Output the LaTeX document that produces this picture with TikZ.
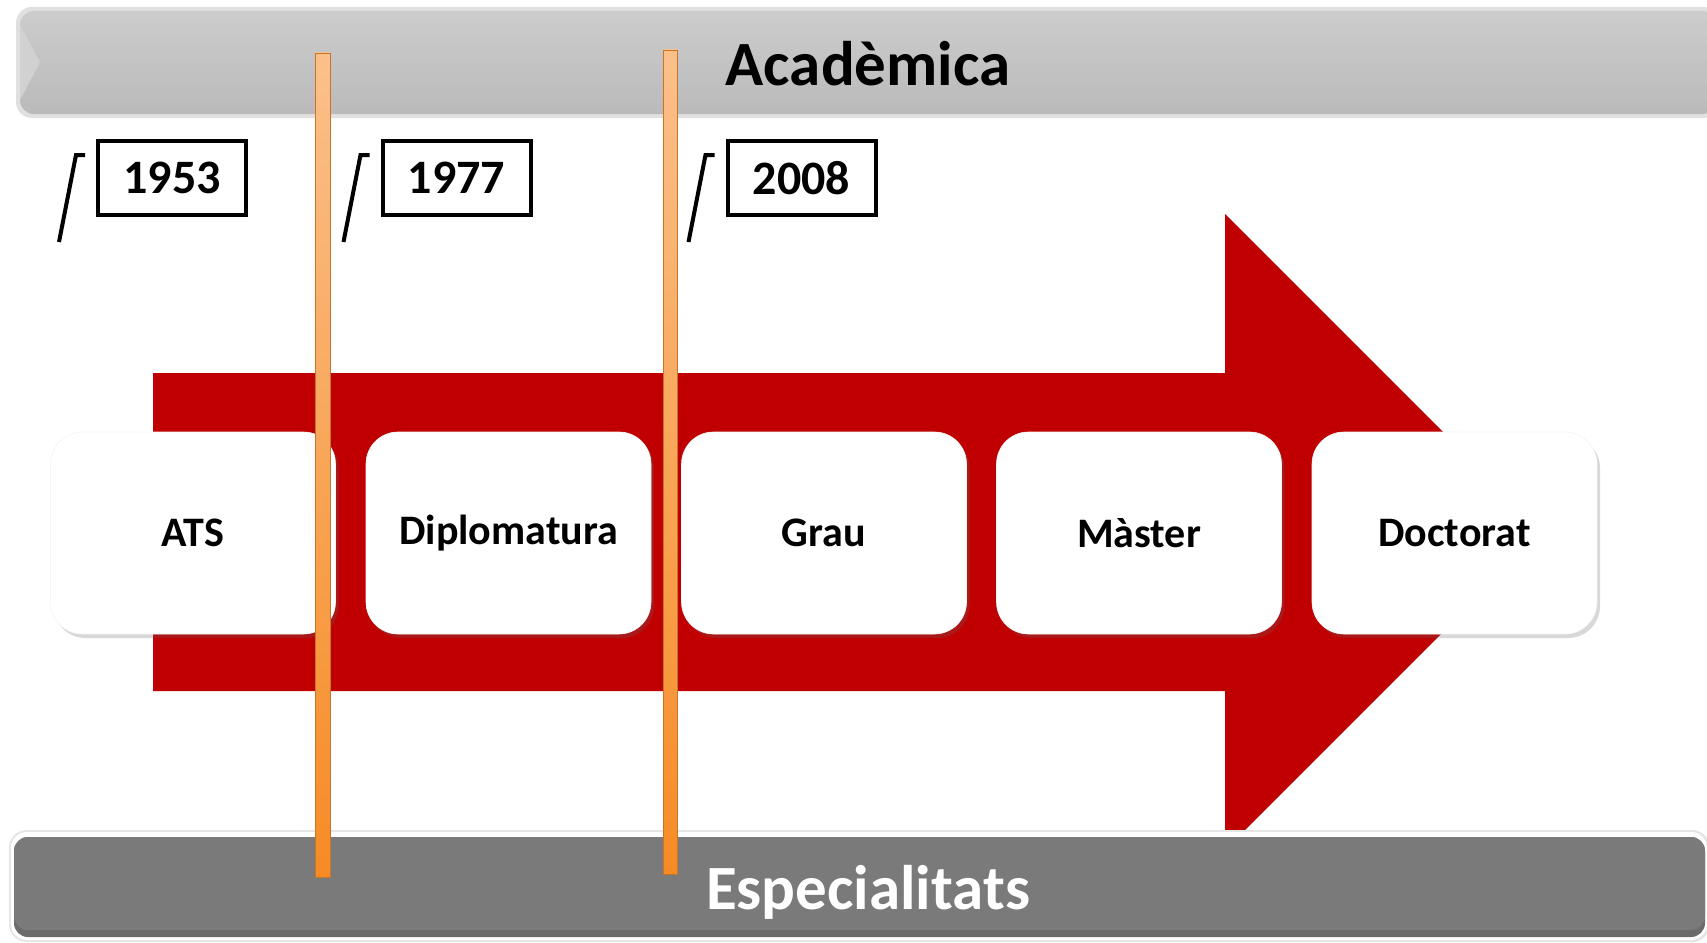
\documentclass[tikz,border=0pt]{standalone}
\usepackage{fontspec}
\setmainfont{Carlito}
\usetikzlibrary{shadows,calc}
\definecolor{arrowred}{HTML}{C00000}
\definecolor{bandlight}{HTML}{BEBEBE}
\definecolor{banddark}{HTML}{7A7A7A}
\definecolor{bartop}{HTML}{FBC08A}
\definecolor{barbot}{HTML}{F68B25}
\definecolor{baredge}{HTML}{C8742A}
\begin{document}
\begin{tikzpicture}[x=1pt,y=-1pt,
  stage/.style={fill=white, draw=black!4, line width=0.6pt, rounded corners=32pt,
    minimum width=285pt, minimum height=202pt, inner sep=0pt,
    font=\fontsize{42}{50}\selectfont\bfseries,
    drop shadow={shadow xshift=3pt, shadow yshift=-4pt, opacity=0.25, fill=black!60}},
  yearbox/.style={draw=black, line width=4pt, minimum width=148pt, minimum height=74pt,
    inner sep=0pt, font=\fontsize{48}{56}\selectfont\bfseries},
  bracketline/.style={line width=4pt, line join=miter, black},
  bandtext/.style={font=\fontsize{63}{75}\selectfont\bfseries, inner sep=0pt},
  barstyle/.style={top color=bartop, bottom color=barbot, draw=baredge, line width=0.8pt}
]
\useasboundingbox (0,0) rectangle (1707,942);
\clip (0,0) rectangle (1707,942);
\fill[white] (0,0) rectangle (1707,942);

% top banner
\fill[black!12, rounded corners=16pt] (16,7) rectangle (1720,118);
\shade[top color=black!20, bottom color=black!27, rounded corners=14pt] (20,11) rectangle (1716,114);
\fill[black!18] (20,25) -- (40,62) -- (20,100) -- cycle;
\node[bandtext] (acad) at (868,64) {Acadèmica};

% red arrow
\fill[arrowred] (153,373) -- (1225,373) -- (1225,214) -- (1543,532) -- (1225,850) -- (1225,691) -- (153,691) -- cycle;

% bottom banner
\fill[black!10, rounded corners=18pt] (9,830) rectangle (1710,942);
\fill[white, rounded corners=16pt] (11,832) rectangle (1707,940);
\fill[black!58, rounded corners=14pt] (14,837) rectangle (1705,937);
\fill[banddark, rounded corners=14pt] (14,837) rectangle (1705,930);
\node[bandtext, text=white] (espec) at (868,892) {Especialitats};

% stage boxes
\node[stage] (ats)    at (193,533)  {ATS};
\node[stage] (dipl)   at (508.5,533) {Diplomatura};
\node[stage] (grau)   at (824,533)  {Grau};
\node[stage] (master) at (1139,533) {Màster};
\node[stage] (doct)   at (1454.5,533) {Doctorat};

% orange bars
\shade[barstyle] (315,53) rectangle (330,877);
\shade[barstyle] (663,50) rectangle (677,874);

% year boxes
\node[yearbox] (y1953) at (172,178)   {1953};
\node[yearbox] (y1977) at (456.5,178) {1977};
\node[yearbox] (y2008) at (801.5,178) {2008};

% brackets
\foreach \n in {y1953,y1977,y2008}{
  \draw[bracketline] ($(\n.west)+(-37,64)$) -- ($(\n.west)+(-20,-23)$) -- ($(\n.west)+(-11,-23)$);
}
\end{tikzpicture}
\end{document}
